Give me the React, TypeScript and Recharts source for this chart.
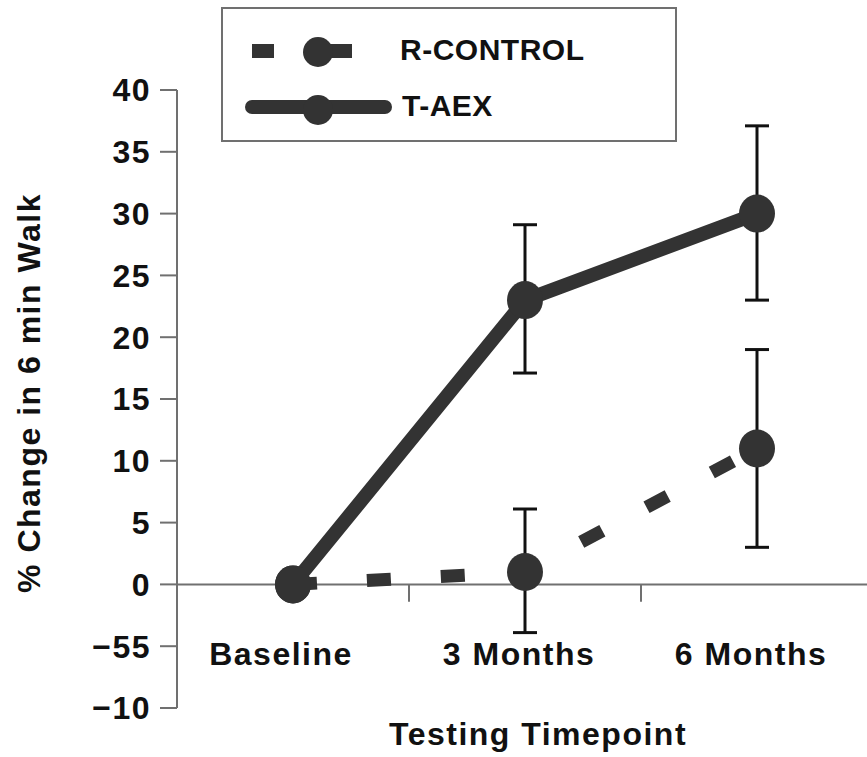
import React from 'react';
import { LineChart, Line, XAxis, YAxis, ErrorBar, ReferenceLine, Legend } from 'recharts';

// categories on the x axis (placed at 0, 1, 2 on a numeric axis)
const CATEGORIES = ['Baseline', '3 Months', '6 Months'];

// % change in 6 min walk
const R_CONTROL = [0, 1, 11];
const R_CONTROL_ERR = [[0, 0], [4.9, 5.1], [8, 8]];
const T_AEX = [0, 23, 30];
const T_AEX_ERR = [[0, 0], [5.9, 6.1], [7, 7.1]];

const Y_TICKS = [40, 35, 30, 25, 20, 15, 10, 5, 0, -5, -10];
const Y_TICK_LABELS = ['40', '35', '30', '25', '20', '15', '10', '5', '0', '\u221255', '\u221210'];
const X_TICK_MARKS = [0.5, 1.5];

const data = CATEGORIES.map((name, i) => ({
    idx: i,
    name,
    rControl: R_CONTROL[i],
    rControlErr: R_CONTROL_ERR[i],
    tAex: T_AEX[i],
    tAexErr: T_AEX_ERR[i],
}));

const FONT = '"Liberation Sans", Arial, Helvetica, sans-serif';
const INK = '#111';
const MARK = '#333';
const AXIS = '#707070';

const textStyle = { fontFamily: FONT, fontWeight: 700, fontSize: 32, letterSpacing: 1.5, fill: INK };

const renderDot = (p: any) => (
    <ellipse key={`dot-${p.dataKey}-${p.index}`} cx={p.cx} cy={p.cy} rx={18} ry={19} fill={MARK} />
);

const XTick = (props: any) => {
    const { x, y, payload } = props;
    const shift = payload.value === 0 ? -12 : -6;
    return (
        <text x={x + shift} y={y - 43} textAnchor="middle" style={textStyle}>
            {CATEGORIES[payload.value]}
        </text>
    );
};

const LegendBox = (props: any) => {
    const items = props.payload || [];
    return (
        <div style={{ width: 456, height: 135, border: `2px solid ${AXIS}`, boxSizing: 'border-box', background: '#fff' }}>
            <svg width={452} height={131}>
                {items.map((item: any) => {
                    const dashed = item.dataKey === 'rControl';
                    const cy = dashed ? 42 : 98;
                    return (
                        <g key={item.dataKey}>
                            {dashed ? (
                                <line x1={29} x2={129} y1={cy} y2={cy} stroke={MARK} strokeWidth={14} strokeDasharray="22 44 60" />
                            ) : (
                                <line x1={29} x2={162} y1={cy} y2={cy} stroke={MARK} strokeWidth={14} strokeLinecap="round" />
                            )}
                            <circle cx={95} cy={dashed ? cy + 1 : cy + 3} r={15} fill={MARK} />
                            <text x={dashed ? 177 : 179} y={dashed ? 51 : 107} style={{ ...textStyle, fontSize: 30, letterSpacing: 0.5 }}>
                                {item.value}
                            </text>
                        </g>
                    );
                })}
            </svg>
        </div>
    );
};

export default function App() {
    return (
        <div style={{ position: 'absolute', left: 0, top: 0, width: 867, height: 757, overflow: 'hidden', background: '#fff' }}>
            <LineChart width={873} height={757} data={data} margin={{ top: 90, right: 0, bottom: 0, left: 0 }}>
                <XAxis
                    dataKey="idx"
                    type="number"
                    domain={[-0.5, 2.5]}
                    ticks={[0, 1, 2]}
                    axisLine={false}
                    tickLine={false}
                    tickSize={0}
                    tickMargin={0}
                    height={49}
                    tick={<XTick />}
                    label={{
                        content: (p: any) => {
                            const vb = p.viewBox;
                            return (
                                <text x={vb.x + vb.width / 2 + 13} y={745} textAnchor="middle" style={textStyle}>
                                    Testing Timepoint
                                </text>
                            );
                        },
                    }}
                />
                <YAxis
                    type="number"
                    domain={[-10, 40]}
                    ticks={Y_TICKS}
                    interval={0}
                    width={177}
                    tickSize={17}
                    tickMargin={9}
                    axisLine={{ stroke: AXIS, strokeWidth: 2 }}
                    tickLine={{ stroke: AXIS, strokeWidth: 2 }}
                    tick={textStyle}
                    tickFormatter={(v: number) => Y_TICK_LABELS[Y_TICKS.indexOf(v)]}
                    label={{
                        content: (p: any) => {
                            const vb = p.viewBox;
                            const cx = vb.x + 29;
                            const cy = vb.y + vb.height / 2 - 6;
                            return (
                                <text
                                    x={cx}
                                    y={cy}
                                    transform={`rotate(-90, ${cx}, ${cy})`}
                                    textAnchor="middle"
                                    dominantBaseline="central"
                                    style={textStyle}
                                >
                                    % Change in 6 min Walk
                                </text>
                            );
                        },
                    }}
                />
                <ReferenceLine y={0} stroke={AXIS} strokeWidth={2} />
                {X_TICK_MARKS.map((t) => (
                    <ReferenceLine
                        key={t}
                        segment={[{ x: t, y: 0 }, { x: t, y: -1.4 }]}
                        stroke={AXIS}
                        strokeWidth={2}
                    />
                ))}
                <Legend
                    layout="horizontal"
                    verticalAlign="middle"
                    align="center"
                    wrapperStyle={{ left: 221, top: 7, width: 456, height: 135 }}
                    content={<LegendBox />}
                />
                <Line
                    name="R-CONTROL"
                    dataKey="rControl"
                    type="linear"
                    stroke={MARK}
                    strokeWidth={13}
                    strokeDasharray="24 50"
                    dot={renderDot}
                    activeDot={false}
                    isAnimationActive={false}
                >
                    <ErrorBar dataKey="rControlErr" direction="y" width={12} stroke={INK} strokeWidth={3} />
                </Line>
                <Line
                    name="T-AEX"
                    dataKey="tAex"
                    type="linear"
                    stroke={MARK}
                    strokeWidth={14}
                    strokeLinejoin="round"
                    dot={renderDot}
                    activeDot={false}
                    isAnimationActive={false}
                >
                    <ErrorBar dataKey="tAexErr" direction="y" width={12} stroke={INK} strokeWidth={3} />
                </Line>
            </LineChart>
        </div>
    );
}
